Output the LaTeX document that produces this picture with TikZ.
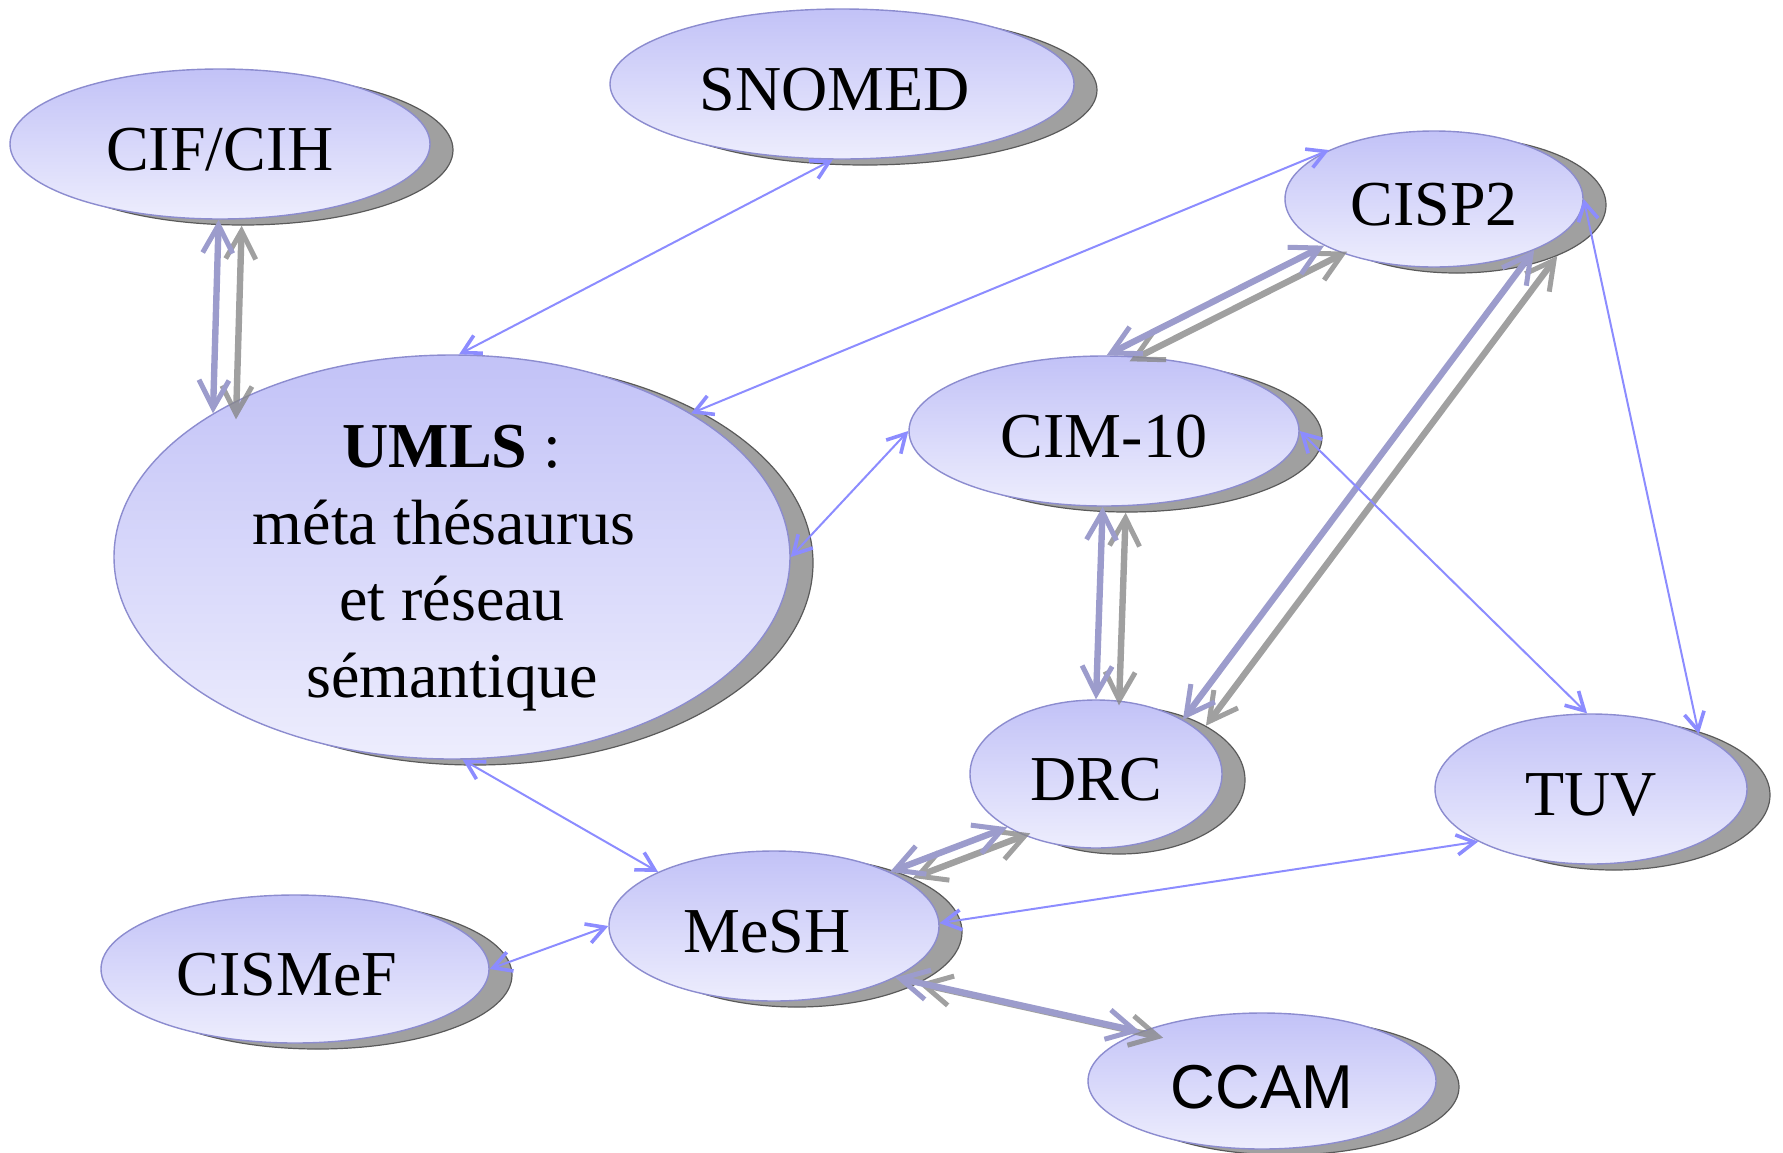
\documentclass[tikz,border=0pt]{standalone}
\usepackage{fontspec}
\setmainfont{Liberation Serif}
\newfontfamily\ccamfont{Liberation Sans}
\usetikzlibrary{shapes.geometric,arrows.meta,shadows}
\definecolor{elltop}{HTML}{C2C2F7}
\definecolor{ellbot}{HTML}{EDEDFD}
\definecolor{elledge}{HTML}{8C8CCF}
\definecolor{shgray}{HTML}{A0A0A0}
\definecolor{shedge}{HTML}{5A5A5A}
\definecolor{thickblue}{HTML}{9C9CCC}
\definecolor{thinblue}{HTML}{8C8CFF}
\definecolor{arrshadow}{HTML}{888888}
\tikzset{
  ell/.style={ellipse, inner sep=0pt, draw=elledge, line width=0.7pt,
    top color=elltop, bottom color=ellbot,
    general shadow={fill=shgray, draw=shedge, line width=0.6pt,
      shadow xshift=11.5pt, shadow yshift=-3pt},
    font=\fontsize{32}{38}\selectfont, text height=26pt, text depth=0pt},
  txt/.style={align=center, inner sep=0pt, font=\fontsize{32}{38.3}\selectfont},
  thickarr/.style={draw=thickblue, line width=3.2pt, {Straight Barb[length=14pt,width=15pt,line width=2.5pt]}-{Straight Barb[length=14pt,width=15pt,line width=2.5pt]}},
  thickshadow/.style={thickarr, draw=arrshadow},
  thinarr/.style={draw=thinblue, line width=1pt, {Straight Barb[length=9pt,width=10pt,line width=1.8pt]}-{Straight Barb[length=9pt,width=10pt,line width=1.8pt]}},
}
\newcommand{\padr}[1]{\rule{#1}{0pt}}
\begin{document}
\begin{tikzpicture}[x=0.5pt, y=-0.5pt]
\useasboundingbox (0,0) rectangle (1783,1152);
% nodes
\node[ell, minimum width=210pt, minimum height=75pt] (cif) at (220,144) {CIF/CIH};
\node[ell, minimum width=232pt, minimum height=75pt] (snomed) at (842,84) {SNOMED\padr{7pt}};
\node[ell, minimum width=338pt, minimum height=202pt] (umls) at (452,557) {};
\node[txt] (umlstext) at (452,568) {\textbf{UMLS} :\\méta thésaurus\padr{8pt}\\et réseau\\sémantique};
\node[ell, minimum width=149pt, minimum height=68pt] (cisp2) at (1434,199) {CISP2};
\node[ell, minimum width=195pt, minimum height=75pt] (cim) at (1104,431) {CIM-10};
\node[ell, minimum width=126pt, minimum height=74pt] (drc) at (1096,774) {DRC};
\node[ell, minimum width=156pt, minimum height=75pt] (tuv) at (1591,789) {TUV};
\node[ell, minimum width=165pt, minimum height=75pt] (mesh) at (774,926) {MeSH\padr{7pt}};
\node[ell, minimum width=194pt, minimum height=74pt] (cismef) at (295,969) {CISMeF\padr{8pt}};
\node[ell, minimum width=174pt, minimum height=68pt, font=\ccamfont\fontsize{31}{36}\selectfont, text height=27pt] (ccam) at (1262,1081) {CCAM};
% shadows of thick connectors
\begin{scope}[transparency group, opacity=0.8, transform canvas={shift={(11.5pt,-3pt)}}]
\draw[thickshadow] (cif.-91) -- (umls.149);
\draw[thickshadow] (cim.88) -- (cisp2.203);
\draw[thickshadow] (cim.-91) -- (drc.90);
\draw[thickshadow] (cisp2.-27) -- (drc.32);
\draw[thickshadow] (drc.211) -- (mesh.25);
\draw[thickshadow] (mesh.-23) -- (ccam.158);
\end{scope}
% thick connectors
\draw[thickarr] (cif.-91) -- (umls.149);
\draw[thickarr] (cim.88) -- (cisp2.203);
\draw[thickarr] (cim.-91) -- (drc.90);
\draw[thickarr] (cisp2.-27) -- (drc.32);
\draw[thickarr] (drc.211) -- (mesh.25);
\draw[thickarr] (mesh.-23) -- (ccam.158);
% thin connectors
\draw[thinarr] (snomed.-97) -- (umls.88);
\draw[thinarr] (cisp2.155) -- (umls.31);
\draw[thinarr] (umls.0) -- (cim.180);
\draw[thinarr] (cim.0) -- (tuv.93);
\draw[thinarr] (cisp2.0) -- (tuv.27);
\draw[thinarr] (umls.-87) -- (mesh.155);
\draw[thinarr] (tuv.205) -- (mesh.1);
\draw[thinarr] (cismef.0) -- (mesh.180);
\end{tikzpicture}
\end{document}
